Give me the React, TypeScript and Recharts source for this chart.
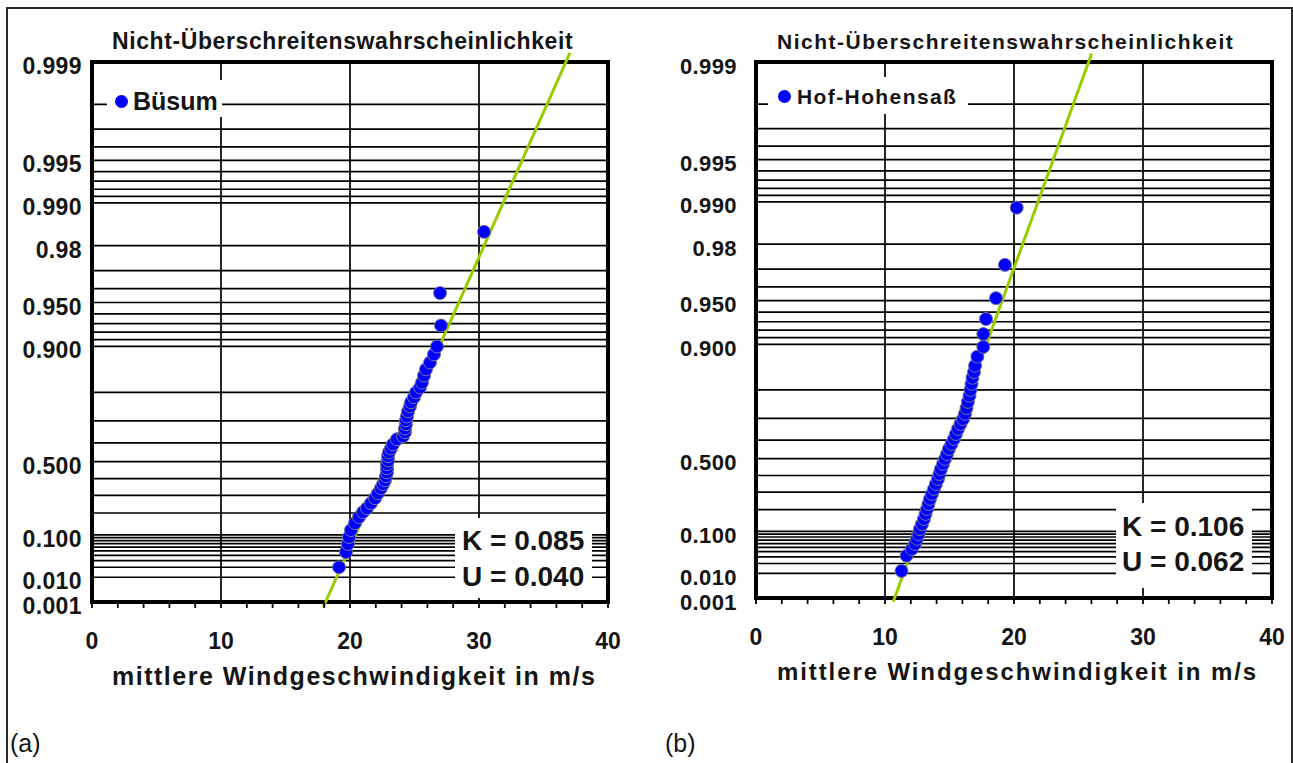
import React from "react";
import {
  ScatterChart,
  Scatter,
  XAxis,
  YAxis,
  CartesianGrid,
  ReferenceLine,
  ReferenceArea,
} from "recharts";

const FONT = "Arial, 'Liberation Sans', Helvetica, sans-serif";
const INK = "#151515";

// Gumbel paper: non-exceedance probability -> reduced variate
const gumbel = (p: number) => -Math.log(-Math.log(p));

const yTickProbs = [0.001, 0.01, 0.1, 0.5, 0.9, 0.95, 0.98, 0.99, 0.995, 0.999];
const yTickLabels = ["0.001", "0.010", "0.100", "0.500", "0.900", "0.950", "0.98", "0.990", "0.995", "0.999"];
const gridProbs = [
  0.01, 0.02, 0.03, 0.04, 0.05, 0.06, 0.07, 0.08, 0.09, 0.1,
  0.2, 0.3, 0.4, 0.5, 0.6, 0.7, 0.8, 0.9,
  0.91, 0.92, 0.93, 0.94, 0.95, 0.96, 0.97, 0.98,
  0.99, 0.991, 0.992, 0.993, 0.994, 0.995, 0.996, 0.997, 0.998,
];
const xTicks = [0, 2, 4, 6, 8, 10, 12, 14, 16, 18, 20, 22, 24, 26, 28, 30, 32, 34, 36, 38, 40];
const xGridLines = [10, 20, 30];

// (a) Büsum
const busumSpeed = [
  19.15, 19.69, 19.84, 19.92, 20.08, 20.39, 20.7, 21.01, 21.32, 21.63, 21.94, 22.17, 22.4, 22.56, 22.71, 22.79,
  22.87, 22.87, 22.87, 22.95, 22.95, 23.02, 23.18, 23.33, 23.64, 24.11, 24.26, 24.26, 24.34, 24.34, 24.42, 24.5,
  24.65, 24.73, 24.96, 25.12, 25.43, 25.58, 25.74, 25.89, 26.2, 26.51, 26.74, 27.05, 26.98, 30.39,
];
const busumProb = [
  0.02, 0.047, 0.069, 0.092, 0.119, 0.15, 0.179, 0.205, 0.226, 0.254, 0.283, 0.312, 0.342, 0.366, 0.39, 0.414,
  0.438, 0.462, 0.485, 0.507, 0.53, 0.551, 0.572, 0.593, 0.618, 0.632, 0.651, 0.668, 0.686, 0.703, 0.718, 0.737,
  0.755, 0.769, 0.785, 0.8, 0.814, 0.827, 0.844, 0.858, 0.872, 0.887, 0.9, 0.928, 0.957, 0.984,
];
const busumFitSpeed = [17.93, 37.05];
const busumFitProb = [0.00055, 0.99914];

// (b) Hof-Hohensaß
const hofSpeed = [
  11.28, 11.67, 12.09, 12.33, 12.48, 12.6, 12.71, 12.87, 13.02, 13.14, 13.26, 13.37, 13.49, 13.64, 13.8, 13.95,
  14.11, 14.22, 14.34, 14.5, 14.65, 14.81, 14.96, 15.16, 15.35, 15.5, 15.66, 15.85, 16.05, 16.2, 16.32, 16.43,
  16.55, 16.63, 16.71, 16.78, 16.9, 16.98, 17.16, 17.62, 17.62, 17.83, 18.6, 19.3, 20.21,
];
const hofProb = [
  0.012, 0.032, 0.046, 0.059, 0.074, 0.09, 0.109, 0.13, 0.153, 0.178, 0.204, 0.231, 0.26, 0.289, 0.319, 0.349,
  0.379, 0.409, 0.439, 0.469, 0.498, 0.526, 0.554, 0.58, 0.606, 0.63, 0.654, 0.676, 0.697, 0.718, 0.74, 0.762,
  0.782, 0.8, 0.817, 0.833, 0.847, 0.861, 0.879, 0.896, 0.915, 0.933, 0.952, 0.972, 0.989,
];
const hofFitSpeed = [10.64, 26.02];
const hofFitProb = [0.00065, 0.99913];

type PanelProps = {
  left: number;
  width: number;
  height: number;
  plotLeft: number;
  plotRight: number;
  plotTop: number;
  plotBottom: number;
  yLabelGap: number;
  yTickFont: number;
  xTickFont: number;
  speeds: number[];
  probs: number[];
  fitSpeed: number[];
  fitProb: number[];
};

function Panel(props: PanelProps) {
  const { left, width, height, plotLeft, plotRight, plotTop, plotBottom } = props;
  const points = props.speeds.map((s, i) => ({ x: s, y: gumbel(props.probs[i]) }));
  const yTicks = yTickProbs.map(gumbel);
  const yMin = yTicks[0];
  const yMax = yTicks[yTicks.length - 1];
  const xAxisHeight = 60;

  const renderYTick = (t: any) => {
    const idx = yTicks.findIndex((v) => Math.abs(v - t.payload.value) < 1e-6);
    return (
      <text x={t.x} y={t.y + 4} textAnchor="end" dominantBaseline="central" fontFamily={FONT}
        fontWeight="bold" fontSize={props.yTickFont} fill={INK} letterSpacing={0.4}>
        {yTickLabels[idx]}
      </text>
    );
  };

  const renderXTick = (t: any) => {
    const v = t.payload.value;
    if (v % 10 !== 0) return <g />;
    return (
      <text x={t.x} y={t.y + 31} textAnchor="middle" dominantBaseline="central" fontFamily={FONT}
        fontWeight="bold" fontSize={props.xTickFont} fill={INK}>
        {v}
      </text>
    );
  };

  const dot = (s: any) => (
    <circle cx={s.cx} cy={s.cy} r={6.5} fill="#0000ff" stroke="#76769a" strokeWidth={1} />
  );

  return (
    <div style={{ position: "absolute", left, top: 0, width, height }}>
      <ScatterChart
        width={width}
        height={height}
        margin={{ top: plotTop, right: left + width - plotRight, bottom: height - plotBottom - xAxisHeight, left: 0 }}
      >
        <CartesianGrid
          horizontalValues={gridProbs.map(gumbel)}
          verticalValues={xGridLines}
          stroke="#000"
          strokeWidth={1.7}
        />
        <XAxis
          type="number"
          dataKey="x"
          domain={[0, 40]}
          ticks={xTicks}
          interval={0}
          height={xAxisHeight}
          axisLine={false}
          tickSize={6}
          tickMargin={2}
          tickLine={{ stroke: "#000", strokeWidth: 1.8 }}
          tick={renderXTick}
          allowDataOverflow
        />
        <YAxis
          type="number"
          dataKey="y"
          domain={[yMin, yMax]}
          ticks={yTicks}
          interval={0}
          width={plotLeft - left}
          axisLine={false}
          tickLine={false}
          tickSize={0}
          tickMargin={props.yLabelGap}
          tick={renderYTick}
          allowDataOverflow
        />
        <ReferenceArea x1={0} x2={40} y1={yMin} y2={yMax} fill="none" stroke="#000" strokeWidth={4} ifOverflow="visible" />
        <ReferenceLine
          segment={[
            { x: props.fitSpeed[0], y: gumbel(props.fitProb[0]) },
            { x: props.fitSpeed[1], y: gumbel(props.fitProb[1]) },
          ]}
          stroke="#99cc00"
          strokeWidth={3}
          ifOverflow="visible"
        />
        <Scatter data={points} shape={dot} isAnimationActive={false} />
      </ScatterChart>
    </div>
  );
}

const abs = (l: number, t: number, extra: React.CSSProperties = {}): React.CSSProperties => ({
  position: "absolute",
  left: l,
  top: t,
  fontFamily: FONT,
  color: INK,
  lineHeight: 1,
  whiteSpace: "nowrap",
  ...extra,
});

export default function App() {
  return (
    <div style={{ position: "absolute", left: 0, top: 0, width: 1293, height: 763, overflow: "hidden", background: "#fff" }}>
      <div style={{ position: "absolute", left: 6, top: 7, width: 1283, height: 770, borderLeft: "2px solid #2a2a2a", borderTop: "2px solid #2a2a2a", borderRight: "2px solid #2a2a2a" }} />

      <Panel
        left={0}
        width={650}
        height={720}
        plotLeft={92}
        plotRight={608}
        plotTop={62}
        plotBottom={602}
        yLabelGap={10}
        yTickFont={23}
        xTickFont={23}
        speeds={busumSpeed}
        probs={busumProb}
        fitSpeed={busumFitSpeed}
        fitProb={busumFitProb}
      />
      <Panel
        left={650}
        width={640}
        height={720}
        plotLeft={756}
        plotRight={1272}
        plotTop={62}
        plotBottom={598}
        yLabelGap={19}
        yTickFont={22}
        xTickFont={23}
        speeds={hofSpeed}
        probs={hofProb}
        fitSpeed={hofFitSpeed}
        fitProb={hofFitProb}
      />

      {/* titles */}
      <div style={abs(112, 30, { fontSize: 23, fontWeight: "bold", letterSpacing: 0.6 })}>Nicht-Überschreitenswahrscheinlichkeit</div>
      <div style={abs(777, 31, { fontSize: 21, fontWeight: "bold", letterSpacing: 1.5 })}>Nicht-Überschreitenswahrscheinlichkeit</div>

      {/* legends */}
      <div style={abs(107, 80, { width: 115, height: 37, background: "#fff" })} />
      <div style={abs(115, 94.5, { width: 13, height: 13, borderRadius: "50%", background: "#0000ff" })} />
      <div style={abs(133, 89, { fontSize: 25, fontWeight: "bold" })}>Büsum</div>

      <div style={abs(768, 77, { width: 200, height: 37, background: "#fff" })} />
      <div style={abs(778, 90, { width: 13, height: 13, borderRadius: "50%", background: "#0000ff" })} />
      <div style={abs(797, 86, { fontSize: 21, fontWeight: "bold", letterSpacing: 1.4 })}>Hof-Hohensaß</div>

      {/* parameter boxes */}
      <div style={abs(455, 518, { width: 137, height: 80, background: "#fff" })} />
      <div style={abs(462, 527, { fontSize: 28, fontWeight: "bold" })}>K = 0.085</div>
      <div style={abs(462, 563, { fontSize: 28, fontWeight: "bold" })}>U = 0.040</div>

      <div style={abs(1116, 503, { width: 136, height: 85, background: "#fff" })} />
      <div style={abs(1122, 513, { fontSize: 28, fontWeight: "bold" })}>K = 0.106</div>
      <div style={abs(1122, 548, { fontSize: 28, fontWeight: "bold" })}>U = 0.062</div>

      {/* axis titles */}
      <div style={abs(112, 664, { fontSize: 25, fontWeight: "bold", letterSpacing: 1.5 })}>mittlere Windgeschwindigkeit in m/s</div>
      <div style={abs(777, 660, { fontSize: 24, fontWeight: "bold", letterSpacing: 1.9 })}>mittlere Windgeschwindigkeit in m/s</div>

      <div style={abs(10, 731, { fontSize: 25 })}>(a)</div>
      <div style={abs(665, 731, { fontSize: 25 })}>(b)</div>
    </div>
  );
}
